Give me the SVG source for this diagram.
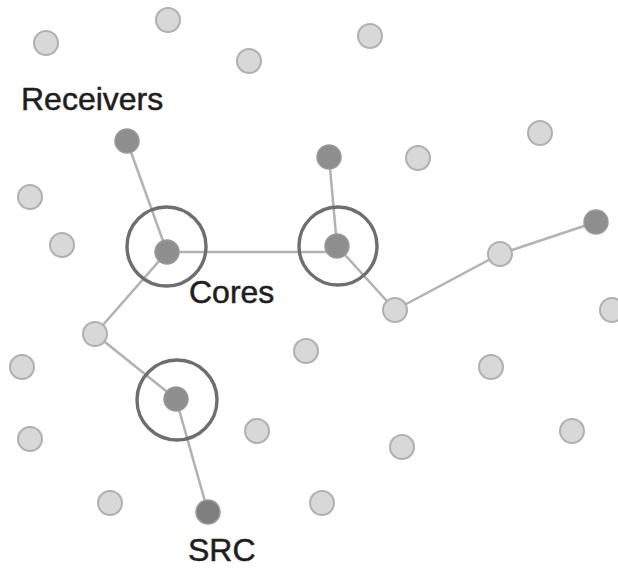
<svg xmlns="http://www.w3.org/2000/svg" width="618" height="568" viewBox="0 0 618 568">
<style>
.n{fill:#d8d8d8;stroke:#b0b0b0;stroke-width:2}
.d{fill:#8e8e8e;stroke:#9a9a9a;stroke-width:1.5}
.ring{fill:none;stroke:#6e6e6e;stroke-width:3.4}
.e{stroke:#b2b2b2;stroke-width:2.5;fill:none}
.t{font-family:"Liberation Sans",Arial,sans-serif;font-size:32px;fill:#1e1e1e;stroke:#1e1e1e;stroke-width:0.5}
</style>
<rect width="618" height="568" fill="#fff"/>
<g id="connectors">
<line class="e" x1="127" y1="141" x2="167" y2="252"/>
<line class="e" x1="167" y1="252" x2="337" y2="252"/>
<line class="e" x1="329" y1="157" x2="337" y2="246"/>
<line class="e" x1="337" y1="246" x2="395" y2="310"/>
<polyline class="e" points="395,310 500,254 596,222"/>
<polyline class="e" points="167,252 95,334 176,399 208,512"/>
</g>
<g id="other-nodes">
<circle class="n" cx="46" cy="43" r="12"/>
<circle class="n" cx="168" cy="20" r="12"/>
<circle class="n" cx="249" cy="61" r="12"/>
<circle class="n" cx="370" cy="36" r="12"/>
<circle class="n" cx="540" cy="133" r="12"/>
<circle class="n" cx="418" cy="158" r="12"/>
<circle class="n" cx="30" cy="197" r="12"/>
<circle class="n" cx="62" cy="245" r="12"/>
<circle class="n" cx="612" cy="310" r="12"/>
<circle class="n" cx="306" cy="351" r="12"/>
<circle class="n" cx="22" cy="367" r="12"/>
<circle class="n" cx="491" cy="367" r="12"/>
<circle class="n" cx="30" cy="439" r="12"/>
<circle class="n" cx="257" cy="431" r="12"/>
<circle class="n" cx="402" cy="447" r="12"/>
<circle class="n" cx="572" cy="431" r="12"/>
<circle class="n" cx="110" cy="503" r="12"/>
<circle class="n" cx="322" cy="503" r="12"/>
</g>
<g id="path-nodes">
<circle class="n" cx="95" cy="334" r="12"/>
<circle class="n" cx="395" cy="310" r="12"/>
<circle class="n" cx="500" cy="254" r="12"/>
</g>
<g id="receiver-1"><circle class="d" cx="127" cy="141" r="12"/></g>
<g id="receiver-2"><circle class="d" cx="329" cy="157" r="12"/></g>
<g id="receiver-3"><circle class="d" cx="596" cy="222" r="12"/></g>
<g id="core-1">
<circle class="ring" cx="166.5" cy="246.5" r="39.5"/>
<circle class="d" cx="167" cy="252" r="12"/>
</g>
<g id="core-2">
<circle class="ring" cx="338" cy="246" r="39"/>
<circle class="d" cx="337" cy="246" r="12"/>
</g>
<g id="core-3">
<circle class="ring" cx="177" cy="400" r="40"/>
<circle class="d" cx="176" cy="399" r="12"/>
</g>
<g id="src"><circle class="d" cx="208" cy="512" r="12" style="fill:#7e7e7e"/></g>
<g id="labels">
<text class="t" x="21" y="110">Receivers</text>
<text class="t" x="189" y="303">Cores</text>
<text class="t" x="188" y="561">SRC</text>
</g>
</svg>
